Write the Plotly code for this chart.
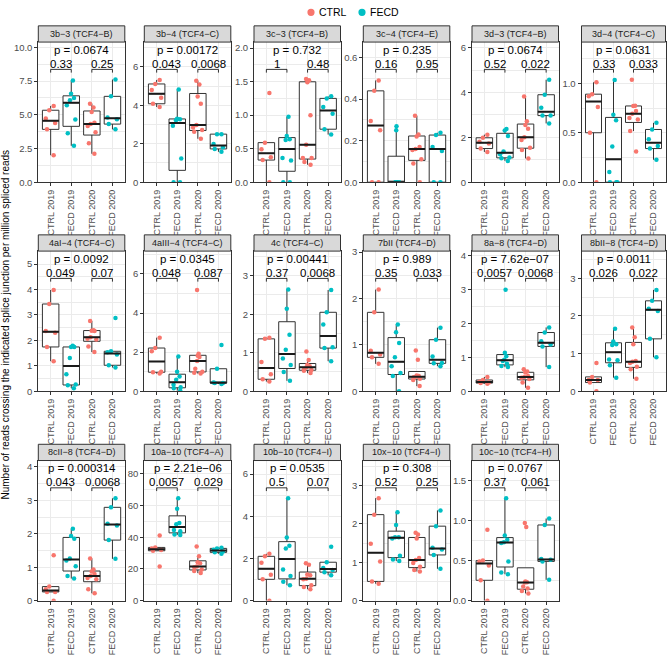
import numpy as np
import plotly.graph_objects as go

# ---------------- data ----------------
categories = ["CTRL 2019", "FECD 2019", "CTRL 2020", "FECD 2020"]
category_group = ["CTRL", "FECD", "CTRL", "FECD"]
legend_groups = ["CTRL", "FECD"]

panel_titles = [
    "3b−3 (TCF4−B)", "3b−4 (TCF4−C)", "3c−3 (TCF4−B)", "3c−4 (TCF4−E)",
    "3d−3 (TCF4−B)", "3d−4 (TCF4−C)", "4aI−4 (TCF4−C)", "4aIII−4 (TCF4−C)",
    "4c (TCF4−C)", "7bII (TCF4−D)", "8a−8 (TCF4−D)", "8bII−8 (TCF4−D)",
    "8cII−8 (TCF4−D)", "10a−10 (TCF4−A)", "10b−10 (TCF4−I)", "10x−10 (TCF4−I)",
    "10c−10 (TCF4−H)",
]

p_overall = ["0.0674", "0.00172", "0.732", "0.235", "0.0674", "0.0631",
             "0.0092", "0.0345", "0.00441", "0.989", "7.62e−07", "0.0011",
             "0.000314", "2.21e−06", "0.0535", "0.308", "0.0767"]
p_2019 = ["0.33", "0.043", "1", "0.16", "0.52", "0.33", "0.049", "0.048",
          "0.37", "0.35", "0.0057", "0.026", "0.043", "0.0057", "0.5", "0.52", "0.37"]
p_2020 = ["0.25", "0.0068", "0.48", "0.95", "0.022", "0.033", "0.07", "0.087",
          "0.0068", "0.033", "0.0068", "0.022", "0.0068", "0.029", "0.07", "0.25", "0.061"]

ctrl_2019 = [
    [5.34, 5.66, 4.73, 4.39, 3.92, 2.0],
    [5.32, 5.11, 4.80, 4.39, 4.08, 3.91],
    [1.33, 0.59, 0.49, 0.37, 0.33, 0.0],
    [0.49, 0.44, 0.295, 0.25, 0.0, 0.0],
    [2.12, 1.98, 1.80, 1.72, 1.50, 1.35],
    [1.01, 0.89, 0.87, 0.76, 0.50, 0.0],
    [3.98, 3.43, 2.37, 2.30, 1.74, 1.18],
    [2.74, 2.21, 2.04, 1.00, 0.97, 0.90],
    [1.39, 1.36, 0.76, 0.44, 0.31, 0.25],
    [2.19, 1.70, 0.87, 0.79, 0.73, 0.59],
    [0.42, 0.33, 0.28, 0.26, 0.24, 0.22],
    [0.75, 0.38, 0.30, 0.30, 0.23, 0.0],
    [1.36, 0.42, 0.34, 0.26, 0.26, 0.0],
    [41.2, 33.6, 33.0, 32.0, 31.5, 21.6],
    [2.22, 2.10, 1.79, 1.23, 1.01, 0.0],
    [2.67, 2.24, 1.48, 1.02, 0.50, 0.44],
    [0.885, 0.50, 0.49, 0.44, 0.254, 0.0],
]
fecd_2019 = [
    [7.55, 6.57, 6.25, 6.08, 5.71, 4.66, 3.63, 2.70],
    [4.82, 3.30, 3.28, 3.22, 2.93, 1.23, 0.0, 0.0],
    [0.975, 0.69, 0.64, 0.63, 0.36, 0.325, 0.0, 0.0],
    [0.27, 0.25, 0.0, 0.0, 0.0, 0.0, 0.0, 0.0],
    [2.37, 2.30, 2.06, 1.37, 1.25, 1.10, 1.07, 0.95],
    [1.033, 0.683, 0.627, 0.36, 0.103, 0.0, 0.0, 0.0],
    [1.79, 1.74, 1.74, 1.31, 0.67, 0.26, 0.23, 0.12],
    [1.77, 0.99, 0.75, 0.58, 0.33, 0.20, 0.15, 0.03],
    [2.64, 2.14, 1.47, 1.08, 0.85, 0.68, 0.50, 0.27],
    [1.44, 1.27, 1.04, 0.73, 0.54, 0.39, 0.33, 0.0],
    [2.99, 1.13, 1.03, 0.93, 0.89, 0.81, 0.74, 0.71],
    [1.66, 1.32, 1.25, 1.23, 0.84, 0.82, 0.69, 0.36],
    [2.15, 1.93, 1.85, 1.26, 1.20, 1.03, 0.74, 0.66],
    [64.7, 58.0, 49.1, 48.3, 44.6, 43.9, 41.7, 41.5],
    [4.85, 2.99, 2.60, 2.47, 1.48, 1.17, 0.89, 0.73],
    [2.30, 1.97, 1.65, 1.65, 1.62, 1.17, 1.07, 1.03],
    [1.28, 0.815, 0.76, 0.73, 0.72, 0.49, 0.35, 0.33],
]
ctrl_2020 = [
    [5.83, 5.54, 5.20, 4.41, 4.31, 4.17, 3.70, 2.89, 2.11],
    [5.28, 5.08, 4.46, 4.08, 2.97, 2.85, 2.71, 2.62, 2.26],
    [1.54, 1.52, 1.49, 1.00, 0.56, 0.36, 0.36, 0.30, 0.26],
    [0.32, 0.23, 0.22, 0.17, 0.16, 0.155, 0.11, 0.09, 0.0],
    [3.82, 2.72, 2.55, 2.38, 2.00, 1.88, 1.54, 1.44, 1.06],
    [1.037, 0.773, 0.77, 0.72, 0.693, 0.65, 0.633, 0.517, 0.31],
    [2.76, 2.40, 2.38, 2.37, 2.12, 2.06, 2.03, 1.76, 1.54],
    [5.18, 1.92, 1.81, 1.75, 1.55, 1.15, 1.00, 0.95, 0.90],
    [1.03, 0.81, 0.69, 0.65, 0.62, 0.57, 0.55, 0.53, 0.47],
    [0.88, 0.68, 0.34, 0.33, 0.31, 0.30, 0.27, 0.24, 0.11],
    [0.65, 0.58, 0.55, 0.45, 0.42, 0.40, 0.36, 0.26, 0.10],
    [1.69, 1.43, 1.25, 0.80, 0.78, 0.75, 0.65, 0.58, 0.33],
    [1.26, 0.93, 0.87, 0.80, 0.74, 0.68, 0.64, 0.34, 0.22],
    [34.2, 28.0, 24.2, 23.6, 21.6, 21.1, 19.6, 18.7, 17.4],
    [1.77, 1.70, 1.24, 1.20, 1.04, 1.01, 0.73, 0.65, 0.54],
    [1.77, 1.72, 1.62, 1.11, 1.06, 0.98, 0.88, 0.80, 0.76],
    [0.97, 0.92, 0.24, 0.23, 0.225, 0.176, 0.15, 0.12, 0.09],
]
fecd_2020 = [
    [7.62, 6.37, 4.80, 4.68, 4.31, 3.92],
    [2.50, 2.50, 1.99, 1.82, 1.73, 1.58],
    [1.28, 1.25, 1.12, 1.02, 0.79, 0.71],
    [0.238, 0.227, 0.17, 0.15, 0.0, 0.0],
    [4.57, 3.90, 3.32, 2.97, 2.97, 2.62],
    [0.60, 0.533, 0.433, 0.367, 0.34, 0.227],
    [2.88, 1.57, 1.53, 1.44, 1.02, 0.93],
    [2.37, 1.15, 0.45, 0.42, 0.42, 0.37],
    [2.63, 2.05, 1.73, 1.14, 1.12, 0.78],
    [1.37, 1.11, 0.75, 0.61, 0.60, 0.54],
    [1.88, 1.73, 1.47, 1.38, 1.32, 0.71],
    [2.69, 2.40, 2.19, 2.13, 1.39, 0.90],
    [3.06, 2.79, 2.30, 2.25, 1.81, 1.25],
    [33.4, 33.0, 32.1, 31.1, 30.5, 29.6],
    [2.55, 1.82, 1.55, 1.45, 1.35, 1.20],
    [2.35, 1.94, 1.38, 1.33, 1.19, 0.83],
    [1.025, 0.945, 0.52, 0.51, 0.49, 0.26],
]
series = [ctrl_2019, fecd_2019, ctrl_2020, fecd_2020]

y_title = "Number of reads crossing the indicated splice junction per million spliced reads"

# ---------------- axis settings (layout) ----------------
y_max = [10.4, 7.29, 2.09, 0.675, 6.25, 1.417, 5.51, 7.17, 3.64, 3.02,
         4.13, 3.72, 4.19, 88.5, 6.64, 3.65, 1.75]
y_dtick = [2.5, 2, 0.5, 0.2, 2, 0.5, 1, 2, 1, 1, 1, 1, 1, 20, 2, 1, 0.5]
y_fmt = [".1f", "d", ".1f", ".1f", "d", ".1f", "d", "d", "d", "d",
         "d", "d", "d", "d", "d", "d", ".1f"]

colors = {"CTRL": "#F8766D", "FECD": "#00BFC4"}
FONT = "Liberation Sans, Arial, sans-serif"
W, H = 668, 655
col_left = [38.3, 144.3, 254.0, 363.3, 472.0, 581.5]
col_width = [86.5, 86.5, 86.5, 86.5, 86.5, 84.0]
row_top = [37.7, 250.3, 463.3]
panel_h = 142.5
strip_h = 16.5
BOX_W = 0.8
GRID = "#EBEBEB"
DARK = "#333333"

fig = go.Figure()
layout = {}
shapes = []
annotations = []

for i, title in enumerate(panel_titles):
    r, c = divmod(i, 6)
    n = i + 1
    xn = "x" if n == 1 else f"x{n}"
    yn = "y" if n == 1 else f"y{n}"
    x0 = col_left[c] / W
    x1 = (col_left[c] + col_width[c]) / W
    yt = 1 - row_top[r] / H
    yb = 1 - (row_top[r] + panel_h) / H

    layout["xaxis" if n == 1 else f"xaxis{n}"] = dict(
        domain=[x0, x1], anchor=yn, range=[0.4, 4.6],
        tickmode="array", tickvals=[k + 1 for k in range(len(categories))],
        ticktext=categories, tickangle=-90,
        showgrid=True, gridcolor=GRID, gridwidth=1, zeroline=False,
        showline=True, mirror=True, linecolor=DARK, linewidth=1,
        ticks="outside", ticklen=3, tickcolor=DARK, tickwidth=1,
        tickfont=dict(size=9, color="#4D4D4D", family=FONT),
        fixedrange=True,
    )
    layout["yaxis" if n == 1 else f"yaxis{n}"] = dict(
        domain=[yb, yt], anchor=xn, range=[0, y_max[i]],
        tick0=0, dtick=y_dtick[i], tickformat=y_fmt[i],
        showgrid=True, gridcolor=GRID, gridwidth=1, zeroline=False,
        minor=dict(tick0=0, dtick=y_dtick[i] / 2, showgrid=True,
                   gridcolor=GRID, gridwidth=0.6),
        showline=True, mirror=True, linecolor=DARK, linewidth=1,
        ticks="outside", ticklen=3, tickcolor=DARK, tickwidth=1,
        tickfont=dict(size=9.5, color="#4D4D4D", family=FONT),
        fixedrange=True,
    )

    for k, cat in enumerate(categories):
        vals = series[k][i]
        fig.add_trace(go.Box(
            x=[k + 1] * len(vals), y=vals, xaxis=xn, yaxis=yn,
            boxpoints="all", jitter=0.7, pointpos=0, width=BOX_W,
            fillcolor="white", line=dict(color=DARK, width=1),
            whiskerwidth=0,
            marker=dict(color=colors[category_group[k]], size=4.5,
                        line=dict(width=0)),
            showlegend=False, hoverinfo="skip", name=cat,
        ))
    # thicker median line (as in ggplot), computed from the data
    for k, cat in enumerate(categories):
        med = float(np.median(series[k][i]))
        fig.add_trace(go.Scatter(
            x=[k + 1 - BOX_W / 2, k + 1 + BOX_W / 2], y=[med, med],
            xaxis=xn, yaxis=yn, mode="lines",
            line=dict(color="#1A1A1A", width=2),
            showlegend=False, hoverinfo="skip",
        ))

    # strip
    shapes.append(dict(type="rect", xref="paper", yref="paper",
                       x0=x0, x1=x1, y0=yt, y1=yt + strip_h / H,
                       fillcolor="#D9D9D9", line=dict(color=DARK, width=1),
                       layer="above"))
    annotations.append(dict(xref="paper", yref="paper",
                            x=(x0 + x1) / 2, y=yt + strip_h / (2 * H),
                            text=title, showarrow=False,
                            font=dict(size=9, color="#1A1A1A", family=FONT),
                            xanchor="center", yanchor="middle"))

    # brackets
    for (a, b, lab) in [(1, 2, p_2019[i]), (3, 4, p_2020[i])]:
        ydr = f"{yn} domain"
        for seg in [(a, a, 0.782, 0.805), (a, b, 0.805, 0.805), (b, b, 0.805, 0.782)]:
            shapes.append(dict(type="line", xref=xn, yref=ydr,
                               x0=seg[0], x1=seg[1], y0=seg[2], y1=seg[3],
                               line=dict(color="black", width=0.8)))
        annotations.append(dict(xref=xn, yref=ydr, x=(a + b) / 2, y=0.845,
                                text=lab, showarrow=False,
                                font=dict(size=11.5, color="black", family=FONT),
                                xanchor="center", yanchor="middle"))
    annotations.append(dict(xref=xn, yref=f"{yn} domain", x=2.5, y=0.945,
                            text="p = " + p_overall[i], showarrow=False,
                            font=dict(size=11.5, color="black", family=FONT),
                            xanchor="center", yanchor="middle"))

# legend (drawn like ggplot's top legend: dot + label)
legend_dot_x = [311, 362]
legend_y = 1 - 7.5 / H
for g, dx in zip(legend_groups, legend_dot_x):
    shapes.append(dict(type="circle", xref="paper", yref="paper",
                       xsizemode="pixel", ysizemode="pixel",
                       xanchor=dx / W, yanchor=legend_y,
                       x0=-3.6, x1=3.6, y0=-3.6, y1=3.6,
                       fillcolor=colors[g], line=dict(width=0)))
    annotations.append(dict(xref="paper", yref="paper", x=(dx + 5.5) / W,
                            y=legend_y, text=g, showarrow=False,
                            font=dict(size=10.5, color="black", family=FONT),
                            xanchor="left", yanchor="middle"))

annotations.append(dict(xref="paper", yref="paper", x=6 / W, y=1 - 325 / H,
                        text=y_title, textangle=-90, showarrow=False,
                        font=dict(size=10, color="black", family=FONT),
                        xanchor="center", yanchor="middle"))

fig.update_layout(
    width=W, height=H,
    margin=dict(l=0, r=0, t=0, b=0),
    paper_bgcolor="white", plot_bgcolor="white",
    boxmode="overlay",
    showlegend=False,
    shapes=shapes, annotations=annotations,
    hovermode=False,
    font=dict(family=FONT),
    **layout,
)

fig.write_html("out.html", config={"displayModeBar": False},
               post_script="document.body.style.margin='0';document.body.style.overflow='hidden';")
